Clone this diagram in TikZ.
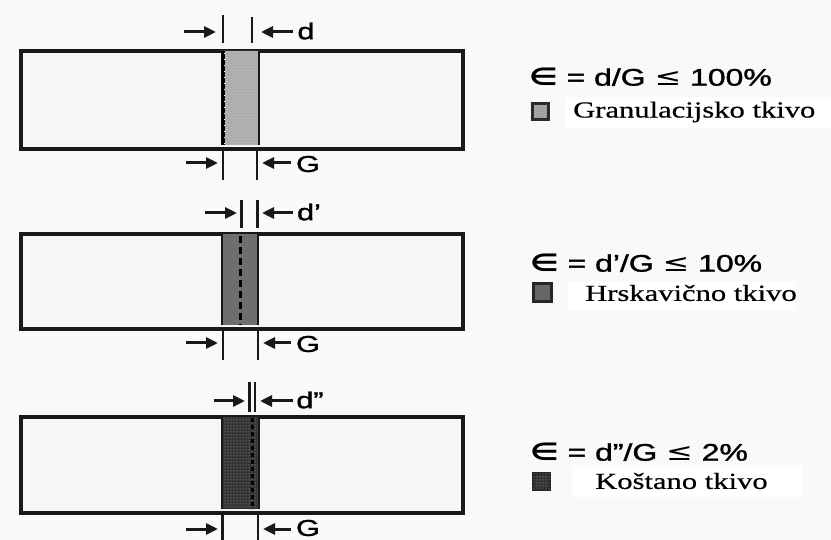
\documentclass[tikz,border=0pt]{standalone}
\usepackage{fontspec}
\usepackage{graphicx}
\setmainfont{Liberation Serif}[FakeBold=0.5]
\setsansfont{Liberation Sans}[FakeBold=1.2]
\newfontfamily\symf{DejaVu Sans}
\usetikzlibrary{arrows.meta,patterns}
\newcommand\hs[1]{\scalebox{1.33}[1]{#1}}
\tikzset{
  bar/.style={draw=black!90,line width=4pt,fill=gray!7,inner sep=0pt},
  tick/.style={draw=black!90,line width=2.8pt},
  dimarrow/.style={draw=black!90,line width=3pt,-{Triangle[length=12pt,width=11pt]}},
  lab/.style={font=\sffamily\fontsize{23}{26}\selectfont,inner sep=0pt},
  eq/.style={font=\sffamily\fontsize{24}{28}\selectfont,anchor=west,inner sep=0pt},
  leg/.style={font=\rmfamily\fontsize{23}{27}\selectfont,anchor=west,inner sep=0pt},
  legbox/.style={draw=black!85,line width=3pt,inner sep=0pt,minimum size=16pt},
  edge/.style={draw=black!90,line width=2.8pt},
}
\begin{document}
\begin{tikzpicture}[x=1pt,y=-1pt]
\fill[gray!5] (0,0) rectangle (831,540);
\useasboundingbox (0,0) rectangle (831,540);

% ---------- panel 1 ----------
\node[bar,minimum width=442pt,minimum height=98pt,anchor=north west] (r1) at (18.5,49) {};
\fill[black!30] (222,51) rectangle (259,145);
\fill[pattern=dots,pattern color=black!45] (222,51) rectangle (259,145);
\draw[edge] (259,51) -- (259,145);
\draw[black,line width=4pt] (223,51) -- (223,145);
\draw[white,line width=1pt,dash pattern=on 1pt off 5pt] (224.6,53) -- (224.6,145);
\coordinate (t1a) at (223,15); \coordinate (t1b) at (223,43);
\coordinate (t1c) at (252,17); \coordinate (t1d) at (252,43);
\draw[tick] (t1a) -- (t1b);
\draw[tick] (t1c) -- (t1d);
\coordinate (a1s) at (184,32); \coordinate (a1e) at (216,32);
\coordinate (a1t) at (293,32); \coordinate (a1u) at (261,32);
\draw[dimarrow] (a1s) -- (a1e);
\draw[dimarrow] (a1t) -- (a1u);
\node[lab] (d1) at (306,31) {\hs{d}};
\coordinate (b1a) at (223,147); \coordinate (b1b) at (223,180);
\coordinate (b1c) at (257,147); \coordinate (b1d) at (257,180);
\draw[tick] (b1a) -- (b1b);
\draw[tick] (b1c) -- (b1d);
\coordinate (g1s) at (186,163); \coordinate (g1e) at (218,163);
\coordinate (g1t) at (291,163); \coordinate (g1u) at (262,163);
\draw[dimarrow] (g1s) -- (g1e);
\draw[dimarrow] (g1t) -- (g1u);
\node[lab] (G1) at (308,164) {\hs{G}};

\node[eq] (e1) at (529,77) {\hs{{\symf\bfseries ∈} = d/G {\symf ≤} 100\%}};
\node[legbox,fill=black!35] (s1) at (540,112) {};
\fill[pattern=dots,pattern color=black!55] (s1.south west) rectangle (s1.north east);
\fill[white] (565,97) rectangle (831,128);
\node[leg] (l1) at (573,112) {\hs{Granulacijsko tkivo}};

% ---------- panel 2 ----------
\node[bar,minimum width=442pt,minimum height=95pt,anchor=north west] (r2) at (18.5,232) {};
\fill[black!57] (222,234) rectangle (258,325);
\draw[edge] (222,234) -- (222,325);
\draw[edge] (258,234) -- (258,325);
\draw[black,line width=3pt,dash pattern=on 7pt off 4pt] (240,236) -- (240,325);
\coordinate (t2a) at (241.5,200); \coordinate (t2b) at (241.5,228);
\coordinate (t2c) at (257.5,200); \coordinate (t2d) at (257.5,228);
\draw[tick] (t2a) -- (t2b);
\draw[tick] (t2c) -- (t2d);
\coordinate (a2s) at (205,213); \coordinate (a2e) at (237,213);
\coordinate (a2t) at (293,213); \coordinate (a2u) at (262,213);
\draw[dimarrow] (a2s) -- (a2e);
\draw[dimarrow] (a2t) -- (a2u);
\node[lab] (d2) at (309,212) {\hs{d’}};
\coordinate (b2a) at (223,327); \coordinate (b2b) at (223,360);
\coordinate (b2c) at (258,327); \coordinate (b2d) at (258,360);
\draw[tick] (b2a) -- (b2b);
\draw[tick] (b2c) -- (b2d);
\coordinate (g2s) at (186,343); \coordinate (g2e) at (218,343);
\coordinate (g2t) at (291,343); \coordinate (g2u) at (263,343);
\draw[dimarrow] (g2s) -- (g2e);
\draw[dimarrow] (g2t) -- (g2u);
\node[lab] (G2) at (308,344) {\hs{G}};

\node[eq] (e2) at (530,263) {\hs{{\symf\bfseries ∈} = d’/G {\symf ≤} 10\%}};
\node[legbox,fill=black!60,minimum size=18pt] (s2) at (542,293) {};
\fill[white] (568,282) rectangle (795,310);
\node[leg] (l2) at (585,293) {\hs{Hrskavično tkivo}};

% ---------- panel 3 ----------
\node[bar,minimum width=442pt,minimum height=96pt,anchor=north west] (r3) at (18.5,415) {};
\fill[black!80] (222,417) rectangle (259,509);
\fill[pattern=dots,pattern color=gray!55] (222,417) rectangle (259,509);
\draw[edge] (222,417) -- (222,509);
\draw[edge] (259,417) -- (259,509);
\draw[black,line width=3pt,dash pattern=on 4pt off 3pt] (252,418) -- (252,509);
\coordinate (t3a) at (249.5,382); \coordinate (t3b) at (249.5,412);
\coordinate (t3c) at (255,382); \coordinate (t3d) at (255,412);
\draw[tick] (t3a) -- (t3b);
\draw[tick] (t3c) -- (t3d);
\coordinate (a3s) at (214,401); \coordinate (a3e) at (245,401);
\coordinate (a3t) at (293,401); \coordinate (a3u) at (260,401);
\draw[dimarrow] (a3s) -- (a3e);
\draw[dimarrow] (a3t) -- (a3u);
\node[lab] (d3) at (310,400) {\hs{d”}};
\coordinate (b3a) at (222.5,511); \coordinate (b3b) at (222.5,540);
\coordinate (b3c) at (258,511); \coordinate (b3d) at (258,540);
\draw[tick] (b3a) -- (b3b);
\draw[tick] (b3c) -- (b3d);
\coordinate (g3s) at (186,529); \coordinate (g3e) at (218,529);
\coordinate (g3t) at (291,529); \coordinate (g3u) at (263,529);
\draw[dimarrow] (g3s) -- (g3e);
\draw[dimarrow] (g3t) -- (g3u);
\node[lab] (G3) at (308,528) {\hs{G}};

\node[eq] (e3) at (530,452) {\hs{{\symf\bfseries ∈} = d”/G {\symf ≤} 2\%}};
\node[legbox,fill=black!80] (s3) at (541,481) {};
\fill[pattern=dots,pattern color=gray!60] (s3.south west) rectangle (s3.north east);
\fill[white] (572,465) rectangle (802,497);
\node[leg] (l3) at (595,481) {\hs{Koštano tkivo}};
\end{tikzpicture}
\end{document}
